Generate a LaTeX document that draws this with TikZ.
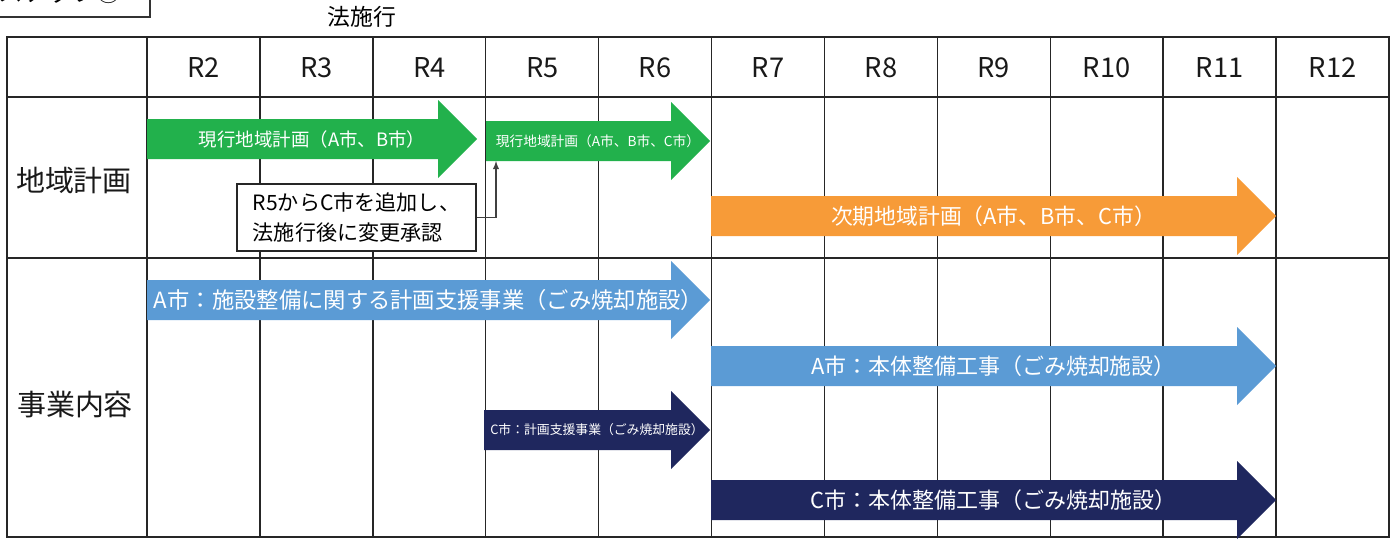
\documentclass[tikz,border=0pt]{standalone}
\usepackage{fontspec}
\setmainfont{Noto Sans CJK JP}
\definecolor{plangreen}{HTML}{22B14C}
\definecolor{planorange}{HTML}{F79B38}
\definecolor{workblue}{HTML}{5B9BD5}
\definecolor{worknavy}{HTML}{1F275E}
\tikzset{
  grid line/.style={line width=0.8pt,black!85},
  head label/.style={font=\fontsize{15.5}{18}\selectfont,text=black!90},
  row label/.style={font=\fontsize{16.5}{19}\selectfont,text=black!90},
  bar label/.style={text=white,inner sep=0pt},
  note box/.style={draw=black!85,line width=1.1pt,fill=white,align=left,
    minimum width=4.78cm,minimum height=1.34cm,inner xsep=0.26cm,
    font=\fontsize{12}{17.6}\selectfont},
  link/.style={black!75,line width=0.6pt,-latex},
}
\newcommand{\planarrow}[7]{%
  \fill[#2] ({#3},{#5-20}) -- ({#4-39},{#5-20}) -- ({#4-39},{#5-39})
    -- ({#4},{#5}) -- ({#4-39},{#5+39}) -- ({#4-39},{#5+20})
    -- ({#3},{#5+20}) -- cycle;
  \node[bar label,font=\fontsize{#6}{#6}\selectfont] (#1) at ({(#3+#4)/2},{#5}) {#7};
}

\begin{document}
\begin{tikzpicture}[x=0.02cm,y=-0.02cm]
  \useasboundingbox (0,0) rectangle (1396,538);
  \node[draw=black!80,line width=0.8pt,minimum width=3.6cm,minimum height=1cm,
    font=\fontsize{14}{16}\selectfont] (step) at (60,-8) {ステップ⑥};
  \node[font=\fontsize{13}{15}\selectfont] (law) at (362,17) {法施行};

  \draw[grid line] (7,37) rectangle (1389,537);
  \draw[grid line] (7,97) -- (1389,97);
  \draw[grid line] (7,258) -- (1389,258);
  \foreach \i in {0,...,10}
    \draw[grid line] ({147+112.9*\i},37) -- ({147+112.9*\i},537);
  \foreach \r [count=\i from 0] in {2,...,12}
    \node[head label] (hdr\r) at ({203.5+112.9*\i},68) {R\r};
  \node[row label] (plan) at (74,180) {地域計画};
  \node[row label] (work) at (75,405) {事業内容};

  \planarrow{cur1}{plangreen}{147}{477}{139}{10.5}{現行地域計画（A市、B市）}
  \planarrow{cur2}{plangreen}{486}{710}{141}{7.8}{現行地域計画（A市、B市、C市）}
  \planarrow{next}{planorange}{711}{1276}{216}{12.4}{次期地域計画（A市、B市、C市）}
  \planarrow{aplan}{workblue}{147}{710}{300}{12.7}{A市：施設整備に関する計画支援事業（ごみ焼却施設）}
  \planarrow{abuild}{workblue}{711}{1276}{366}{12.5}{A市：本体整備工事（ごみ焼却施設）}
  \planarrow{cplan}{worknavy}{484}{710}{430}{7.3}{C市：計画支援事業（ごみ焼却施設）}
  \planarrow{cbuild}{worknavy}{711}{1276}{500}{12.5}{C市：本体整備工事（ごみ焼却施設）}

  \node[note box] (note) at (356.5,217.5) {R5からC市を追加し、\\法施行後に変更承認};
  \coordinate (cur2foot) at (496,161);
  \draw[link] (note.east) -| (cur2foot);
\end{tikzpicture}
\end{document}
